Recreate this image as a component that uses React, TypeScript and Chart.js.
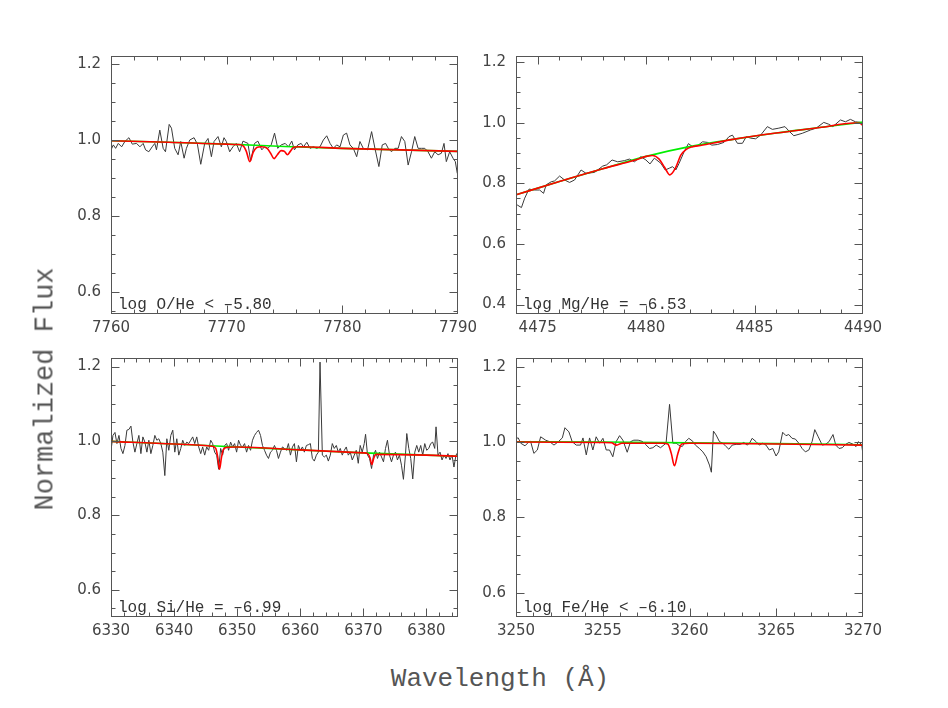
import React, { useEffect, useRef } from "react";
import { Chart, registerables } from "chart.js";

Chart.register(...registerables);

// ---------------- O panel (7760-7790 Å) ----------------
const oObserved: number[][] = [
  [7760.0, 0.974], [7760.2, 0.987], [7760.4, 0.978], [7760.63, 0.991], [7760.92, 0.982], [7761.2, 0.996],
  [7761.55, 1.006], [7761.84, 0.989], [7762.21, 0.991], [7762.5, 0.982], [7762.78, 0.991], [7762.99, 0.974],
  [7763.27, 0.969], [7763.56, 0.982], [7763.79, 0.991], [7763.93, 0.974], [7764.22, 1.026], [7764.51, 0.978],
  [7764.71, 0.969], [7765.03, 1.041], [7765.23, 1.031], [7765.51, 0.978], [7765.8, 0.961], [7766.03, 0.996],
  [7766.32, 0.952], [7766.52, 0.978], [7766.81, 1.0], [7767.18, 1.006], [7767.47, 0.989], [7767.76, 0.936],
  [7768.1, 0.991], [7768.39, 1.004], [7768.68, 0.956], [7768.91, 0.996], [7769.25, 1.009], [7769.54, 0.982],
  [7769.77, 1.006], [7769.97, 0.996], [7770.26, 0.969], [7770.54, 0.982], [7770.83, 0.991], [7771.12, 0.969],
  [7771.41, 0.997], [7771.84, 0.991], [7772.07, 0.945], [7772.41, 0.991], [7772.7, 0.997], [7773.04, 0.974],
  [7773.27, 0.982], [7773.56, 0.978], [7773.85, 0.987], [7774.14, 1.018], [7774.42, 0.978], [7774.71, 0.987],
  [7775.06, 0.991], [7775.34, 0.982], [7775.63, 0.997], [7775.86, 0.974], [7776.15, 0.987], [7776.44, 0.991],
  [7776.64, 0.982], [7776.93, 0.994], [7777.21, 0.978], [7777.5, 0.982], [7777.79, 0.978], [7778.07, 0.982],
  [7778.36, 1.0], [7778.65, 1.011], [7778.94, 0.991], [7779.22, 0.978], [7779.51, 0.987], [7779.8, 0.982],
  [7780.09, 1.013], [7780.37, 1.018], [7780.66, 0.987], [7780.95, 0.978], [7781.24, 0.956], [7781.52, 0.996],
  [7781.81, 0.978], [7782.18, 0.974], [7782.53, 1.022], [7782.82, 0.978], [7783.16, 0.93], [7783.45, 0.987],
  [7783.74, 0.991], [7783.97, 0.978], [7784.25, 0.969], [7784.54, 0.978], [7784.83, 0.978], [7785.11, 1.009],
  [7785.4, 0.996], [7785.69, 0.934], [7785.98, 0.969], [7786.26, 1.009], [7786.55, 0.978], [7786.84, 0.978],
  [7787.13, 0.978], [7787.41, 0.969], [7787.7, 0.952], [7787.99, 0.969], [7788.28, 0.961], [7788.56, 0.965],
  [7788.79, 0.991], [7788.99, 0.943], [7789.28, 0.969], [7789.57, 0.952], [7789.77, 0.943], [7789.94, 0.912],
];
const oContinuum: number[][] = [
  [7760, 0.998], [7765, 0.994], [7770, 0.989], [7775, 0.983], [7780, 0.978], [7785, 0.974], [7790, 0.97],
];
const oModel: number[][] = [
  [7760, 0.998], [7765, 0.994], [7770, 0.989], [7771.0, 0.988], [7771.4, 0.985], [7771.7, 0.97],
  [7772.0, 0.943], [7772.3, 0.968], [7772.6, 0.98], [7773.0, 0.982], [7773.5, 0.978], [7773.8, 0.965],
  [7774.1, 0.951], [7774.4, 0.962], [7774.7, 0.972], [7775.0, 0.97], [7775.25, 0.961], [7775.5, 0.97],
  [7775.8, 0.981], [7776.2, 0.982], [7780, 0.978], [7785, 0.974], [7790, 0.97],
];
const oXLabels = [7760, 7770, 7780, 7790];
const oYLabels = [0.6, 0.8, 1.0, 1.2];

// ---------------- Mg panel (4474-4490 Å) ----------------
const mgObserved: number[][] = [
  [4474.05, 0.729], [4474.25, 0.72], [4474.4, 0.751], [4474.6, 0.781], [4474.86, 0.778], [4475.09, 0.778],
  [4475.27, 0.767], [4475.39, 0.795], [4475.62, 0.805], [4475.78, 0.808], [4476.01, 0.824], [4476.24, 0.811],
  [4476.47, 0.803], [4476.7, 0.811], [4477.0, 0.844], [4477.23, 0.833], [4477.62, 0.836], [4478.0, 0.857],
  [4478.18, 0.861], [4478.43, 0.877], [4478.69, 0.871], [4479.0, 0.875], [4479.23, 0.88], [4479.46, 0.871],
  [4479.76, 0.888], [4479.99, 0.877], [4480.18, 0.864], [4480.38, 0.883], [4480.68, 0.866], [4480.88, 0.844],
  [4481.07, 0.85], [4481.22, 0.855], [4481.37, 0.844], [4481.52, 0.866], [4481.75, 0.904], [4481.95, 0.931],
  [4482.14, 0.921], [4482.37, 0.924], [4482.6, 0.937], [4482.83, 0.935], [4483.03, 0.926], [4483.29, 0.928],
  [4483.59, 0.935], [4483.82, 0.954], [4483.98, 0.959], [4484.21, 0.932], [4484.44, 0.932], [4484.62, 0.954],
  [4484.82, 0.949], [4485.05, 0.947], [4485.28, 0.959], [4485.59, 0.987], [4485.82, 0.978], [4486.12, 0.982],
  [4486.4, 0.987], [4486.58, 0.973], [4486.81, 0.957], [4487.2, 0.965], [4487.58, 0.976], [4487.84, 0.982],
  [4488.19, 1.001], [4488.42, 0.995], [4488.61, 0.987], [4488.96, 1.009], [4489.19, 1.003], [4489.42, 1.011],
  [4489.65, 1.003], [4489.88, 1.001], [4490.0, 0.994],
];
const mgContinuum: number[][] = [
  [4474, 0.762], [4476, 0.806], [4478, 0.848], [4480, 0.889], [4482, 0.921], [4484, 0.945], [4486, 0.966],
  [4488, 0.984], [4490, 1.002],
];
const mgModel: number[][] = [
  [4474, 0.762], [4476, 0.806], [4478, 0.848], [4479.5, 0.877], [4480.0, 0.889], [4480.3, 0.892],
  [4480.6, 0.88], [4480.85, 0.853], [4481.1, 0.828], [4481.35, 0.85], [4481.6, 0.893], [4481.85, 0.912],
  [4482.1, 0.92], [4482.5, 0.925], [4484, 0.945], [4486, 0.966], [4488, 0.984], [4489.6, 0.999],
  [4489.85, 0.998], [4490, 0.99],
];
const mgXLabels = [4475, 4480, 4485, 4490];
const mgYLabels = [0.4, 0.6, 0.8, 1.0, 1.2];

// ---------------- Si panel (6330-6385 Å) ----------------
const siObserved: number[][] = [
  [6330.0, 0.975], [6330.31, 1.015], [6330.63, 1.023], [6330.94, 0.993], [6331.26, 1.015], [6331.58, 0.98],
  [6331.89, 0.966], [6332.21, 0.988], [6332.52, 1.029], [6332.84, 1.031], [6333.16, 1.04], [6333.47, 0.997],
  [6333.79, 0.97], [6334.1, 0.993], [6334.42, 1.015], [6334.74, 0.966], [6335.05, 1.011], [6335.37, 0.997],
  [6335.69, 0.97], [6336.0, 1.002], [6336.32, 0.966], [6336.63, 0.988], [6336.95, 1.015], [6337.27, 1.002],
  [6337.58, 1.006], [6337.9, 0.993], [6338.21, 0.97], [6338.53, 0.907], [6338.85, 1.006], [6339.16, 0.975],
  [6339.48, 1.015], [6339.79, 1.029], [6340.11, 0.97], [6340.43, 1.006], [6340.74, 0.962], [6341.06, 0.98],
  [6341.37, 1.002], [6341.69, 0.988], [6342.01, 0.997], [6342.32, 0.993], [6342.64, 1.002], [6342.95, 1.011],
  [6343.27, 0.993], [6343.59, 1.011], [6343.9, 0.984], [6344.22, 0.966], [6344.53, 0.984], [6344.85, 0.962],
  [6345.17, 0.984], [6345.48, 0.975], [6345.8, 1.002], [6346.11, 0.993], [6346.43, 0.97], [6346.75, 0.962],
  [6347.06, 0.924], [6347.38, 0.98], [6347.69, 0.962], [6348.01, 0.988], [6348.33, 0.993], [6348.64, 0.975],
  [6348.96, 0.997], [6349.27, 0.984], [6349.59, 0.993], [6349.91, 0.97], [6350.22, 1.002], [6350.54, 0.988],
  [6350.85, 0.984], [6351.17, 0.993], [6351.49, 0.97], [6351.8, 0.988], [6352.12, 0.975], [6352.43, 1.002],
  [6352.75, 1.015], [6353.07, 1.023], [6353.38, 1.029], [6353.7, 1.015], [6354.01, 0.988], [6354.33, 0.975],
  [6354.65, 0.962], [6354.96, 0.953], [6355.28, 0.97], [6355.59, 0.975], [6355.91, 0.988], [6356.23, 0.975],
  [6356.54, 0.953], [6356.86, 0.97], [6357.17, 0.984], [6357.49, 0.98], [6357.81, 0.975], [6358.12, 0.993],
  [6358.44, 0.962], [6358.76, 0.984], [6359.07, 0.993], [6359.39, 0.944], [6359.7, 0.988], [6360.02, 0.975],
  [6360.34, 0.984], [6360.65, 0.97], [6360.97, 0.988], [6361.28, 0.99], [6361.6, 0.993], [6361.92, 0.953],
  [6362.23, 0.946], [6362.55, 0.962], [6362.87, 0.97], [6363.13, 1.212], [6363.5, 0.962], [6363.81, 0.957],
  [6364.13, 0.962], [6364.45, 0.946], [6364.76, 0.962], [6365.08, 0.993], [6365.39, 0.98], [6365.71, 0.988],
  [6366.03, 0.97], [6366.34, 0.98], [6366.66, 0.962], [6366.98, 0.975], [6367.29, 0.984], [6367.61, 0.962],
  [6367.92, 0.97], [6368.24, 0.949], [6368.56, 0.962], [6368.87, 0.975], [6369.19, 0.94], [6369.5, 0.988],
  [6369.82, 0.97], [6370.14, 0.993], [6370.35, 1.018], [6370.66, 0.962], [6370.98, 0.953], [6371.3, 0.926],
  [6371.61, 0.962], [6371.93, 0.975], [6372.24, 0.953], [6372.56, 0.97], [6372.88, 0.957], [6373.19, 0.944],
  [6373.51, 0.98], [6373.82, 1.002], [6374.14, 0.962], [6374.46, 0.944], [6374.77, 0.962], [6375.09, 0.97],
  [6375.4, 0.949], [6375.72, 0.962], [6376.04, 0.935], [6376.35, 0.897], [6376.67, 0.962], [6376.88, 1.02],
  [6377.2, 0.98], [6377.51, 0.953], [6377.83, 0.898], [6378.15, 0.97], [6378.46, 0.988], [6378.78, 0.97],
  [6379.09, 0.988], [6379.41, 0.962], [6379.73, 0.993], [6380.04, 0.975], [6380.36, 0.98], [6380.67, 0.993],
  [6380.99, 0.997], [6381.31, 0.98], [6381.52, 1.038], [6381.83, 0.962], [6382.15, 0.97], [6382.47, 0.949],
  [6382.78, 0.962], [6383.1, 0.953], [6383.41, 0.966], [6383.73, 0.949], [6384.05, 0.962], [6384.36, 0.93],
  [6384.68, 0.962], [6385.0, 0.97],
];
const siContinuum: number[][] = [
  [6330, 0.999], [6340, 0.992], [6350, 0.984], [6360, 0.976], [6370, 0.968], [6380, 0.962], [6385, 0.959],
];
const siModel: number[][] = [
  [6330, 0.999], [6340, 0.992], [6346.0, 0.986], [6346.6, 0.98], [6346.9, 0.958], [6347.2, 0.924],
  [6347.5, 0.955], [6347.8, 0.977], [6348.4, 0.983], [6350, 0.984], [6360, 0.976], [6370, 0.968],
  [6370.7, 0.966], [6371.05, 0.955], [6371.35, 0.937], [6371.65, 0.954], [6372.0, 0.964], [6380, 0.962],
  [6385, 0.959],
];
const siXLabels = [6330, 6340, 6350, 6360, 6370, 6380];
const siYLabels = [0.6, 0.8, 1.0, 1.2];

// ---------------- Fe panel (3250-3270 Å) ----------------
const feObserved: number[][] = [
  [3250.0, 1.01], [3250.13, 1.011], [3250.27, 0.997], [3250.52, 0.99], [3250.75, 1.001], [3250.84, 1.002],
  [3251.03, 0.97], [3251.23, 0.979], [3251.42, 1.014], [3251.71, 1.005], [3251.94, 1.001], [3252.19, 0.992],
  [3252.44, 1.001], [3252.67, 1.011], [3252.82, 1.038], [3253.05, 1.027], [3253.24, 1.001], [3253.47, 0.992],
  [3253.72, 0.992], [3253.86, 1.011], [3254.05, 0.966], [3254.24, 1.011], [3254.43, 0.979], [3254.62, 1.014],
  [3254.82, 0.997], [3255.01, 1.01], [3255.2, 0.979], [3255.39, 0.979], [3255.58, 0.961], [3255.77, 1.001],
  [3255.97, 1.017], [3256.16, 1.005], [3256.41, 0.973], [3256.6, 1.001], [3256.79, 1.005], [3257.04, 1.005],
  [3257.27, 1.002], [3257.46, 0.994], [3257.7, 0.983], [3257.89, 0.985], [3258.08, 0.992], [3258.33, 0.985],
  [3258.65, 0.997], [3258.85, 1.1], [3259.04, 0.997], [3259.23, 0.997], [3259.38, 0.992], [3259.58, 0.988],
  [3259.77, 1.001], [3259.96, 1.01], [3260.19, 1.002], [3260.34, 0.992], [3260.57, 0.983], [3260.77, 0.974],
  [3260.96, 0.961], [3261.15, 0.939], [3261.26, 0.92], [3261.38, 1.029], [3261.53, 1.019], [3261.73, 1.001],
  [3261.92, 0.997], [3262.11, 0.988], [3262.27, 0.981], [3262.46, 0.992], [3262.69, 0.994], [3262.94, 0.994],
  [3263.13, 0.999], [3263.32, 0.992], [3263.46, 0.997], [3263.61, 1.01], [3263.84, 1.001], [3264.03, 0.992],
  [3264.22, 0.997], [3264.41, 0.992], [3264.6, 0.979], [3264.8, 0.983], [3264.99, 0.963], [3265.14, 0.974],
  [3265.37, 1.026], [3265.56, 1.017], [3265.72, 1.02], [3265.91, 1.01], [3266.1, 1.008], [3266.3, 0.997],
  [3266.49, 0.983], [3266.68, 0.974], [3266.88, 0.979], [3267.07, 1.002], [3267.22, 1.033], [3267.42, 1.014],
  [3267.65, 0.992], [3267.84, 0.994], [3268.04, 1.001], [3268.27, 1.02], [3268.43, 0.992], [3268.62, 0.983],
  [3268.81, 0.985], [3269.0, 0.994], [3269.19, 0.999], [3269.44, 0.994], [3269.6, 0.988], [3269.73, 1.001],
  [3269.92, 0.994], [3270.0, 0.967],
];
const feContinuum: number[][] = [
  [3250, 1.001], [3255, 1.0], [3260, 0.998], [3265, 0.996], [3270, 0.993],
];
const feModel: number[][] = [
  [3250, 1.0], [3255, 0.999], [3255.5, 0.998], [3255.8, 0.992], [3256.1, 0.997], [3258.5, 0.997],
  [3258.75, 0.995], [3258.95, 0.97], [3259.13, 0.937], [3259.32, 0.968], [3259.55, 0.995], [3260, 0.997],
  [3265, 0.995], [3270, 0.992],
];
const feXLabels = [3250, 3255, 3260, 3265, 3270];
const feYLabels = [0.6, 0.8, 1.0, 1.2];

// ---------------- panel layout ----------------
type Panel = {
  observed: number[][];
  continuum: number[][];
  model: number[][];
  xMin: number; xMax: number; xMinor: number; xLabels: number[];
  yMin: number; yMax: number; yLabels: number[];
  label: string;
  left: number; top: number; width: number; height: number;
};

const panels: Panel[] = [
  {
    observed: oObserved, continuum: oContinuum, model: oModel,
    xMin: 7760, xMax: 7790, xMinor: 2, xLabels: oXLabels,
    yMin: 0.542, yMax: 1.221, yLabels: oYLabels,
    label: "log O/He < \u20135.80",
    left: 111, top: 56, width: 347, height: 258,
  },
  {
    observed: mgObserved, continuum: mgContinuum, model: mgModel,
    xMin: 4474, xMax: 4490, xMinor: 1, xLabels: mgXLabels,
    yMin: 0.369, yMax: 1.22, yLabels: mgYLabels,
    label: "log Mg/He = \u20136.53",
    left: 516, top: 56, width: 347, height: 258,
  },
  {
    observed: siObserved, continuum: siContinuum, model: siModel,
    xMin: 6330, xMax: 6385, xMinor: 2, xLabels: siXLabels,
    yMin: 0.527, yMax: 1.223, yLabels: siYLabels,
    label: "log Si/He = \u20136.99",
    left: 111, top: 358, width: 347, height: 259,
  },
  {
    observed: feObserved, continuum: feContinuum, model: feModel,
    xMin: 3250, xMax: 3270, xMinor: 1, xLabels: feXLabels,
    yMin: 0.536, yMax: 1.223, yLabels: feYLabels,
    label: "log Fe/He < \u20136.10",
    left: 516, top: 358, width: 347, height: 259,
  },
];

const PAD_L = 60, PAD_T = 26, PAD_R = 40, PAD_B = 30;
const TICK_FONT = { family: "'DejaVu Sans', sans-serif", size: 15 };
const TEXT_COLOR = "#444";

function stepTicks(min: number, max: number, step: number): number[] {
  const out: number[] = [];
  const start = Math.ceil(min / step - 1e-9);
  const end = Math.floor(max / step + 1e-9);
  for (let i = start; i <= end; i++) out.push(Math.round(i * step * 1e6) / 1e6);
  return out;
}

function isIn(v: number, list: number[]) {
  return list.some((m) => Math.abs(m - v) < 1e-6);
}

const framePlugin = {
  id: "frame",
  afterDatasetsDraw(chart: any, _args: any, opts: any) {
    const { ctx, chartArea: a } = chart;
    const xs = chart.scales.x;
    const ys = chart.scales.y;
    const L = Math.round(a.left) + 0.5;
    const R = Math.round(a.right) - 0.5;
    const T = Math.round(a.top) + 0.5;
    const B = Math.round(a.bottom) - 0.5;
    ctx.save();
    ctx.strokeStyle = "#555";
    ctx.lineWidth = 1;
    ctx.beginPath();
    xs.ticks.forEach((t: any) => {
      const px = Math.round(xs.getPixelForValue(t.value)) + 0.5;
      if (px < L - 0.1 || px > R + 0.6) return;
      const len = isIn(t.value, opts.xLabels) ? 8 : 4;
      ctx.moveTo(px, B); ctx.lineTo(px, B - len);
      ctx.moveTo(px, T); ctx.lineTo(px, T + len);
    });
    ys.ticks.forEach((t: any) => {
      const py = Math.round(ys.getPixelForValue(t.value)) + 0.5;
      const len = isIn(t.value, opts.yLabels) ? 8 : 4;
      ctx.moveTo(L, py); ctx.lineTo(L + len, py);
      ctx.moveTo(R, py); ctx.lineTo(R - len, py);
    });
    ctx.stroke();
    ctx.strokeRect(L, T, R - L, B - T);
    ctx.restore();
  },
};

function toPoints(arr: number[][]) {
  return arr.map((p) => ({ x: p[0], y: p[1] }));
}

function PanelChart({ p }: { p: Panel }) {
  const ref = useRef<HTMLCanvasElement>(null);
  const cw = p.width + PAD_L + PAD_R;
  const ch = p.height + PAD_T + PAD_B;
  useEffect(() => {
    if (!ref.current) return;
    const xTicks = stepTicks(p.xMin, p.xMax, p.xMinor);
    const yTicks = stepTicks(p.yMin, p.yMax, 0.05);
    const chart = new Chart(ref.current, {
      type: "scatter",
      data: {
        datasets: [
          {
            label: "model",
            data: toPoints(p.model),
            showLine: true,
            borderColor: "#ff0000",
            borderWidth: 1.6,
            pointRadius: 0,
            cubicInterpolationMode: "monotone",
          },
          {
            label: "continuum",
            data: toPoints(p.continuum),
            showLine: true,
            borderColor: "#00ee00",
            borderWidth: 1.6,
            pointRadius: 0,
            cubicInterpolationMode: "monotone",
          },
          {
            label: "observed",
            data: toPoints(p.observed),
            showLine: true,
            borderColor: "#3a3a3a",
            borderWidth: 1,
            pointRadius: 0,
            tension: 0,
          },
        ],
      } as any,
      options: {
        animation: false,
        responsive: false,
        devicePixelRatio: 1,
        events: [],
        layout: { padding: { left: 0, top: PAD_T, right: PAD_R, bottom: 0 } },
        plugins: {
          legend: { display: false },
          tooltip: { enabled: false },
          frame: { xLabels: p.xLabels, yLabels: p.yLabels },
        } as any,
        scales: {
          x: {
            type: "linear",
            min: p.xMin,
            max: p.xMax,
            grid: { display: false, drawTicks: false },
            border: { display: false },
            afterBuildTicks: (s: any) => {
              s.ticks = xTicks.map((v) => ({ value: v }));
            },
            afterFit: (s: any) => {
              s.height = PAD_B;
            },
            ticks: {
              autoSkip: false,
              maxRotation: 0,
              minRotation: 0,
              padding: 5,
              color: TEXT_COLOR,
              font: TICK_FONT,
              callback: (v: any) => (isIn(Number(v), p.xLabels) ? String(Math.round(Number(v))) : ""),
            },
          },
          y: {
            type: "linear",
            min: p.yMin,
            max: p.yMax,
            grid: { display: false, drawTicks: false },
            border: { display: false },
            afterBuildTicks: (s: any) => {
              s.ticks = yTicks.map((v) => ({ value: v }));
            },
            afterFit: (s: any) => {
              s.width = PAD_L;
            },
            ticks: {
              autoSkip: false,
              padding: 10,
              color: TEXT_COLOR,
              font: TICK_FONT,
              callback: (v: any) => (isIn(Number(v), p.yLabels) ? Number(v).toFixed(1) : ""),
            },
          },
        },
      } as any,
      plugins: [framePlugin as any],
    });
    return () => chart.destroy();
  }, [p]);
  return (
    <canvas
      ref={ref}
      width={cw}
      height={ch}
      style={{
        position: "absolute",
        left: p.left - PAD_L,
        top: p.top - PAD_T,
        width: cw,
        height: ch,
      }}
    />
  );
}

export default function App() {
  return (
    <div
      style={{
        position: "fixed",
        left: 0,
        top: 0,
        width: 948,
        height: 708,
        background: "#ffffff",
        overflow: "hidden",
      }}
    >
      {panels.map((p, i) => (
        <PanelChart key={i} p={p} />
      ))}
      {panels.map((p, i) => (
        <div
          key={"l" + i}
          style={{
            position: "absolute",
            left: p.left + 7,
            top: p.top + p.height - 17,
            fontFamily: "'Liberation Mono', monospace",
            fontSize: 16,
            lineHeight: "16px",
            color: "#333",
            whiteSpace: "pre",
          }}
        >
          {p.label}
        </div>
      ))}
      <div
        style={{
          position: "absolute",
          left: 500,
          top: 666,
          transform: "translateX(-50%)",
          fontFamily: "'Liberation Mono', monospace",
          fontSize: 26,
          lineHeight: "26px",
          color: "#555",
          whiteSpace: "pre",
        }}
      >
        Wavelength (Å)
      </div>
      <div
        style={{
          position: "absolute",
          left: 46,
          top: 389,
          transform: "translate(-50%, -50%) rotate(-90deg)",
          fontFamily: "'Liberation Mono', monospace",
          fontSize: 27,
          lineHeight: "27px",
          color: "#555",
          whiteSpace: "pre",
        }}
      >
        Normalized Flux
      </div>
    </div>
  );
}
